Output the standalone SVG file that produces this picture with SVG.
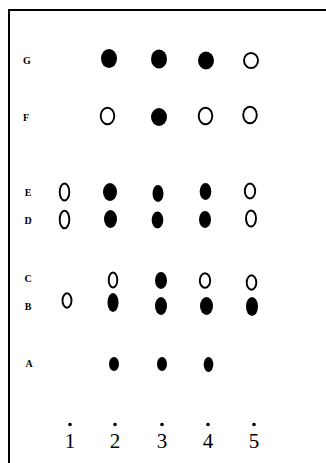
<svg xmlns="http://www.w3.org/2000/svg" width="326" height="463" viewBox="0 0 326 463">
<style>
.f{fill:#000}
.o{fill:none;stroke:#000;stroke-width:1.9}
.lbl{font-family:"Liberation Serif",serif;font-weight:bold;font-size:10px;fill:#000;text-anchor:middle}
.num{font-family:"Liberation Serif",serif;font-size:21px;fill:#000;text-anchor:middle}
.frame{stroke:#000;stroke-width:2;fill:none}
</style>
<rect width="326" height="463" fill="#fff"/>
<g id="frame">
<line class="frame" x1="9" y1="10" x2="326" y2="10"/>
<line class="frame" x1="9" y1="9" x2="9" y2="463"/>
</g>
<g id="row-G">
<text class="lbl" x="27" y="64">G</text>
<ellipse class="f" cx="109" cy="58.5" rx="8" ry="9.5"/>
<ellipse class="f" cx="159" cy="59" rx="8" ry="9.5"/>
<ellipse class="f" cx="206" cy="60.5" rx="8" ry="9"/>
<ellipse class="o" cx="251" cy="60.5" rx="7" ry="7.5"/>
</g>
<g id="row-F">
<text class="lbl" x="26" y="121">F</text>
<ellipse class="o" cx="107.5" cy="116" rx="6.8" ry="8.2"/>
<ellipse class="f" cx="159" cy="117" rx="8" ry="9"/>
<ellipse class="o" cx="205.5" cy="116" rx="6.8" ry="8.2"/>
<ellipse class="o" cx="250" cy="115" rx="6.8" ry="8.2"/>
</g>
<g id="row-E">
<text class="lbl" x="28" y="196">E</text>
<ellipse class="o" cx="64.5" cy="192" rx="4.8" ry="8.5"/>
<ellipse class="f" cx="110" cy="192" rx="7" ry="9"/>
<ellipse class="f" cx="158" cy="193.5" rx="5.5" ry="8.5"/>
<ellipse class="f" cx="205.5" cy="191.5" rx="5.8" ry="8.5"/>
<ellipse class="o" cx="250" cy="191" rx="5.2" ry="7.5"/>
</g>
<g id="row-D">
<text class="lbl" x="28" y="224">D</text>
<ellipse class="o" cx="64.5" cy="219.5" rx="4.8" ry="8.8"/>
<ellipse class="f" cx="110.5" cy="219" rx="6.5" ry="9"/>
<ellipse class="f" cx="157.5" cy="220" rx="5.8" ry="8.5"/>
<ellipse class="f" cx="205" cy="219.5" rx="6" ry="8.5"/>
<ellipse class="o" cx="251" cy="218.5" rx="5" ry="8"/>
</g>
<g id="row-C">
<text class="lbl" x="28" y="282">C</text>
<ellipse class="o" cx="113" cy="280" rx="4.3" ry="7.5"/>
<ellipse class="f" cx="161" cy="280.5" rx="6" ry="8.5"/>
<ellipse class="o" cx="205" cy="280.5" rx="5.2" ry="7.2"/>
<ellipse class="o" cx="251.5" cy="282.5" rx="4.8" ry="7.2"/>
</g>
<g id="row-B">
<text class="lbl" x="28" y="310">B</text>
<ellipse class="o" cx="67" cy="300.5" rx="4.5" ry="7.2"/>
<ellipse class="f" cx="113" cy="302.5" rx="5.5" ry="9.5"/>
<ellipse class="f" cx="161" cy="306" rx="6" ry="9"/>
<ellipse class="f" cx="206.5" cy="306" rx="6.5" ry="9"/>
<ellipse class="f" cx="252" cy="306.5" rx="6" ry="9.5"/>
</g>
<g id="row-A">
<text class="lbl" x="29" y="367">A</text>
<ellipse class="f" cx="114" cy="364" rx="5" ry="7"/>
<ellipse class="f" cx="162" cy="364" rx="5" ry="7"/>
<ellipse class="f" cx="208.5" cy="364.5" rx="4.8" ry="7.5"/>
</g>
<g id="axis">
<circle class="f" cx="70" cy="424.5" r="1.8"/>
<circle class="f" cx="115" cy="424.5" r="1.8"/>
<circle class="f" cx="162" cy="424.5" r="1.8"/>
<circle class="f" cx="208" cy="424.5" r="1.8"/>
<circle class="f" cx="254" cy="424.5" r="1.8"/>
<text class="num" x="70" y="448">1</text>
<text class="num" x="115" y="448">2</text>
<text class="num" x="162" y="448">3</text>
<text class="num" x="208" y="448">4</text>
<text class="num" x="254" y="448">5</text>
</g>
</svg>
